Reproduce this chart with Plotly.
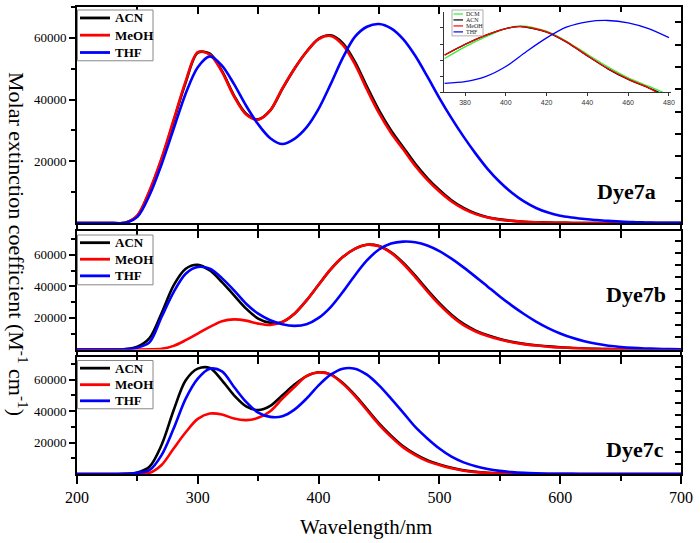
import plotly.graph_objects as go

# ---------------- data ----------------
wavelength = [200, 210, 220, 230, 240, 250, 260, 270, 280, 290, 300, 310, 320, 330, 340, 350,
              360, 370, 380, 390, 400, 410, 420, 430, 440, 450, 460, 470, 480, 490, 500, 510,
              520, 530, 540, 550, 560, 570, 580, 590, 600, 610, 620, 630, 640, 650, 660, 670,
              680, 690, 700]

# Dye7a
eps_a_acn = [0, 0, 0, 0, 100, 2400, 10200, 20600, 33000, 45600, 55200, 54900, 49300, 41300, 35400, 33600,
             36500, 43500, 50000, 55500, 59700, 60800, 58300, 52300, 44200, 36500, 30000, 24600, 19200, 14600, 10700, 7400,
             4900, 3100, 1900, 1200, 750, 450, 280, 160, 90, 45, 20, 0, 0, 0, 0, 0,
             0, 0, 0]
eps_a_meoh = [0, 0, 0, 0, 100, 2500, 10500, 21000, 33500, 46000, 55400, 54600, 49000, 41000, 35200, 33500,
              36500, 43600, 50000, 55500, 59600, 60600, 57700, 51500, 43300, 35600, 29200, 23900, 18500, 14000, 10200, 7000,
              4600, 2900, 1800, 1100, 700, 400, 250, 150, 80, 40, 20, 0, 0, 0, 0, 0,
              0, 0, 0]
eps_a_thf = [0, 0, 0, 0, 100, 2000, 9000, 19000, 30500, 42000, 50500, 54000, 51000, 45000, 38000, 32000,
             27500, 25600, 27300, 31000, 37000, 45000, 53500, 60300, 63600, 64500, 63100, 59600, 54200, 47500, 40500, 34000,
             28000, 22500, 17500, 13300, 9800, 7000, 4900, 3400, 2400, 1800, 1300, 1000, 700, 500, 300, 200,
             120, 70, 50]

# Dye7b
eps_b_acn = [0, 0, 0, 0, 300, 1800, 7200, 23000, 40600, 51100, 53600, 50000, 42700, 34300, 25900, 19600,
             16900, 17500, 22700, 31100, 41000, 50700, 58500, 63700, 66300, 65500, 61500, 55000, 46800, 37800, 29400, 22100,
             16200, 12000, 9000, 6700, 4900, 3600, 2700, 2000, 1400, 1000, 650, 400, 250, 160, 100, 50,
             20, 0, 0]
eps_b_meoh = [0, 0, 0, 0, 0, 0, 100, 400, 2300, 5900, 10100, 14300, 17900, 19100, 18300, 16400,
              15500, 17500, 22700, 31100, 41000, 50700, 58500, 63700, 66300, 65400, 61200, 54300, 45900, 36800, 28400, 21200,
              15400, 11400, 8500, 6300, 4600, 3400, 2500, 1800, 1300, 900, 600, 380, 230, 150, 90, 40,
              20, 0, 0]
eps_b_thf = [0, 0, 0, 0, 200, 1200, 4500, 20600, 36400, 48000, 52200, 51100, 45200, 37400, 29000, 22700,
             18500, 16000, 15000, 16000, 20000, 26900, 36400, 46900, 56400, 63300, 67100, 68300, 67900, 65900, 62300, 57500,
             52000, 46000, 39800, 33600, 27800, 22500, 17700, 13600, 10200, 7400, 5200, 3600, 2400, 1600, 1050, 700,
             450, 300, 200]

# Dye7c
eps_c_acn = [0, 0, 0, 0, 100, 1000, 4600, 18400, 40500, 59500, 66900, 67300, 59500, 50000, 43000, 40600,
             43300, 50000, 56800, 62200, 64600, 63300, 57800, 50200, 41200, 32200, 24400, 17600, 12600, 8700, 6000, 3900,
             2400, 1400, 800, 450, 250, 130, 60, 20, 0, 0, 0, 0, 0, 0, 0, 0,
             0, 0, 0]
eps_c_meoh = [0, 0, 0, 0, 0, 100, 700, 5700, 16200, 26500, 35000, 38400, 37800, 35200, 34200, 35700,
              39900, 47900, 55300, 62200, 64500, 63100, 57400, 49600, 40500, 31400, 23600, 16900, 12000, 8200, 5700, 3600,
              2100, 1200, 600, 300, 150, 60, 20, 0, 0, 0, 0, 0, 0, 0, 0, 0,
              0, 0, 0]
eps_c_thf = [0, 0, 0, 0, 100, 800, 2400, 12000, 28900, 47900, 60600, 66900, 65200, 55300, 45800, 39000,
             36300, 36700, 40900, 47900, 56300, 63100, 66900, 66900, 63100, 56300, 47900, 39000, 29900, 22600, 16200, 11000,
             7400, 5000, 3200, 2000, 1200, 700, 400, 200, 100, 50, 0, 0, 0, 0, 0, 0,
             0, 0, 0]

# Inset (Dye7a long-wavelength band, zoomed, arbitrary units)
wl_in_dcm = [370, 380, 390, 400, 408, 420, 430, 440, 450, 460, 470, 477]
ab_in_dcm = [1.05, 1.41, 1.72, 1.98, 2.06, 1.90, 1.58, 1.18, 0.79, 0.45, 0.19, 0.0]
wl_in_acn = [370, 380, 390, 400, 407, 420, 430, 440, 450, 460, 470, 475]
ab_in_acn = [1.16, 1.49, 1.77, 1.98, 2.04, 1.87, 1.55, 1.13, 0.73, 0.40, 0.14, 0.0]
wl_in_meoh = [370, 380, 390, 400, 407, 420, 430, 440, 450, 460, 470, 474]
ab_in_meoh = [1.155, 1.485, 1.77, 1.98, 2.05, 1.88, 1.56, 1.14, 0.74, 0.41, 0.14, 0.0]
wl_in_thf = [370, 380, 390, 400, 410, 420, 430, 440, 450, 460, 470, 480]
ab_in_thf = [0.28, 0.33, 0.485, 0.80, 1.26, 1.69, 2.03, 2.19, 2.23, 2.16, 1.98, 1.70]

solvents = ["ACN", "MeOH", "THF"]
inset_solvents = ["DCM", "ACN", "MeOH", "THF"]
dye_names = ["Dye7a", "Dye7b", "Dye7c"]
x_ticks = [200, 300, 400, 500, 600, 700]
y_ticks = [20000, 40000, 60000]
y_minor = [10000, 30000, 50000, 70000]
inset_x_ticks = [380, 400, 420, 440, 460, 480]

# ---------------- styling ----------------
SERIF = "Liberation Serif"
colors = {"ACN": "#000000", "MeOH": "#ff0000", "THF": "#0000ff", "DCM": "#33ee33"}

L, R, T, B = 77, 19, 5, 69
W, H = 700, 543
PH = H - T - B
PW = W - L - R

def py(y):  # pixel y -> paper fraction
    return (H - B - y) / PH

def px(x):
    return (x - L) / PW

fig = go.Figure()

panels = [
    [eps_a_acn, eps_a_meoh, eps_a_thf],
    [eps_b_acn, eps_b_meoh, eps_b_thf],
    [eps_c_acn, eps_c_meoh, eps_c_thf],
]
for i, series in enumerate(panels):
    xa = "x" if i == 0 else f"x{i+1}"
    ya = "y" if i == 0 else f"y{i+1}"
    for name, eps in zip(solvents, series):
        fig.add_trace(go.Scatter(
            x=wavelength, y=eps, mode="lines", name=name, showlegend=False,
            line=dict(color=colors[name], width=2.6, shape="spline", smoothing=0.9),
            xaxis=xa, yaxis=ya, hoverinfo="skip"))
    # empty traces that bind the top / right tick axes to this panel
    k = i + 4
    fig.add_trace(go.Scatter(x=[], y=[], xaxis=f"x{k}", yaxis=ya, showlegend=False, hoverinfo="skip"))
    fig.add_trace(go.Scatter(x=[], y=[], xaxis=xa, yaxis=f"y{k}", showlegend=False, hoverinfo="skip"))

inset_data = [(wl_in_dcm, ab_in_dcm), (wl_in_acn, ab_in_acn), (wl_in_meoh, ab_in_meoh), (wl_in_thf, ab_in_thf)]
for name, (wl, ab) in zip(inset_solvents, inset_data):
    fig.add_trace(go.Scatter(
        x=wl, y=ab, mode="lines", name=name, showlegend=False,
        line=dict(color=colors[name], width=1.3, shape="spline", smoothing=0.8),
        xaxis="x7", yaxis="y7", hoverinfo="skip"))

doms = [[py(222), 1.0], [py(349), py(230)], [0.0, py(357)]]
yranges = [[0, 70000], [0, 75000], [0, 74000]]
right_ranges = [[0, 217 / 22.4], [0, 119 / 12.1], [-0.85, 8.75]]

layout = dict(
    width=W, height=H, margin=dict(l=L, r=R, t=T, b=B),
    paper_bgcolor="white", plot_bgcolor="white", showlegend=False,
    font=dict(family=SERIF, color="black"),
)
for i in range(3):
    sx = "" if i == 0 else str(i + 1)
    yname = "y" + sx
    xname = "x" + sx
    layout["xaxis" + sx] = dict(
        domain=[0, 1], anchor=yname, range=[200, 700], showgrid=False, zeroline=False,
        showline=True, linecolor="black", linewidth=2, mirror=True,
        tickmode="array", tickvals=x_ticks, ticktext=[str(v) for v in x_ticks],
        ticks="outside", ticklen=8 if i == 2 else 4, tickwidth=1.5, tickcolor="black",
        showticklabels=(i == 2), tickfont=dict(family=SERIF, size=16, color="black"),
        minor=dict(dtick=50, tick0=0, ticks="outside", ticklen=5 if i == 2 else 4,
                   tickwidth=1.5, tickcolor="black"))
    layout["yaxis" + sx] = dict(
        domain=doms[i], range=yranges[i], anchor=xname, showgrid=False, zeroline=False,
        showline=True, linecolor="black", linewidth=2, mirror=True,
        tickmode="array", tickvals=y_ticks, ticktext=[str(v) for v in y_ticks],
        ticks="outside", ticklen=6, tickwidth=1.5, tickcolor="black",
        tickfont=dict(family=SERIF, size=13, color="black"),
        minor=dict(tickvals=y_minor, ticks="outside", ticklen=4, tickwidth=1.5, tickcolor="black"))
    k = i + 4
    layout[f"xaxis{k}"] = dict(overlaying=xname, anchor=yname, side="top", range=[200, 700],
                               tickmode="linear", tick0=200, dtick=50, ticks="inside", ticklen=7,
                               tickwidth=1.5, tickcolor="black", showticklabels=False,
                               showgrid=False, zeroline=False, showline=False)
    layout[f"yaxis{k}"] = dict(overlaying=yname, anchor=xname, side="right", range=right_ranges[i],
                               tickmode="linear", tick0=0, dtick=1, ticks="inside", ticklen=6,
                               tickwidth=1.5, tickcolor="black", showticklabels=False,
                               showgrid=False, zeroline=False, showline=False)

# inset axes
layout["xaxis7"] = dict(domain=[px(444), px(671)], anchor="y7", range=[369.7, 481],
                        tickmode="array", tickvals=inset_x_ticks, ticktext=[str(v) for v in inset_x_ticks],
                        ticks="outside", ticklen=3,
                        tickwidth=1, tickcolor="#333", showline=True, linecolor="#333", linewidth=1,
                        showgrid=False, zeroline=False,
                        tickfont=dict(family="Liberation Sans", size=7, color="#333"))
layout["yaxis7"] = dict(domain=[py(90.7), py(10)], anchor="x7", range=[0, 2.495],
                        tickmode="linear", tick0=0, dtick=0.5, ticks="outside", ticklen=3,
                        tickwidth=1, tickcolor="#333", showline=True, linecolor="#333", linewidth=1,
                        showticklabels=False, showgrid=False, zeroline=False)

annotations = []
shapes = []

# keys for the three panels (box top, box bottom, row centres in pixels)
keys = [(8, 59, [16, 33.3, 50.7]), (234, 284, [241.7, 258.3, 275]), (360, 408.5, [367.7, 384.3, 400.5])]
for (top, bot, rows) in keys:
    shapes.append(dict(type="rect", xref="paper", yref="paper", x0=px(77.5), x1=px(153), y0=py(bot), y1=py(top),
                       line=dict(color="#888", width=1), fillcolor="white", layer="above"))
    for name, yy in zip(solvents, rows):
        shapes.append(dict(type="line", xref="paper", yref="paper", x0=px(80), x1=px(110), y0=py(yy), y1=py(yy),
                           line=dict(color=colors[name], width=2.8), layer="above"))
        annotations.append(dict(text=f"<b>{name}</b>", x=px(112.5), y=py(yy), xref="paper", yref="paper",
                                xanchor="left", yanchor="middle", showarrow=False,
                                font=dict(family=SERIF, size=13, color="black")))

dye_pos = [(658, 190), (668, 294), (666, 449)]
for name, (xr, yc) in zip(dye_names, dye_pos):
    annotations.append(dict(text=f"<b>{name}</b>", x=px(xr), y=py(yc), xref="paper", yref="paper",
                            xanchor="right", yanchor="middle", showarrow=False,
                            font=dict(family=SERIF, size=22, color="black")))
annotations.append(dict(text="Molar extinction coefficient (M<sup>-1</sup> cm<sup>-1</sup>)",
                        x=px(18), y=py(243), xref="paper", yref="paper", textangle=90,
                        xanchor="center", yanchor="middle", showarrow=False,
                        font=dict(family=SERIF, size=22, color="black")))
annotations.append(dict(text="Wavelength/nm", x=px(366), y=py(527), xref="paper", yref="paper",
                        xanchor="center", yanchor="middle", showarrow=False,
                        font=dict(family=SERIF, size=21, color="black")))

# small key inside the inset
shapes.append(dict(type="rect", xref="paper", yref="paper", x0=px(452), x1=px(483), y0=py(34), y1=py(8),
                   line=dict(color="#999", width=0.8), fillcolor="white", layer="above"))
for j, name in enumerate(inset_solvents):
    yy = 12 + j * 6
    shapes.append(dict(type="line", xref="paper", yref="paper", x0=px(453.5), x1=px(463), y0=py(yy), y1=py(yy),
                       line=dict(color=colors[name], width=1.2), layer="above"))
    annotations.append(dict(text=name, x=px(463.5), y=py(yy), xref="paper", yref="paper",
                            xanchor="left", yanchor="middle", showarrow=False,
                            font=dict(family=SERIF, size=6, color="#222")))
layout["annotations"] = annotations
layout["shapes"] = shapes

fig.update_layout(**layout)
fig.write_html("out.html", config={"displayModeBar": False},
               post_script="document.body.style.margin='0px';")
